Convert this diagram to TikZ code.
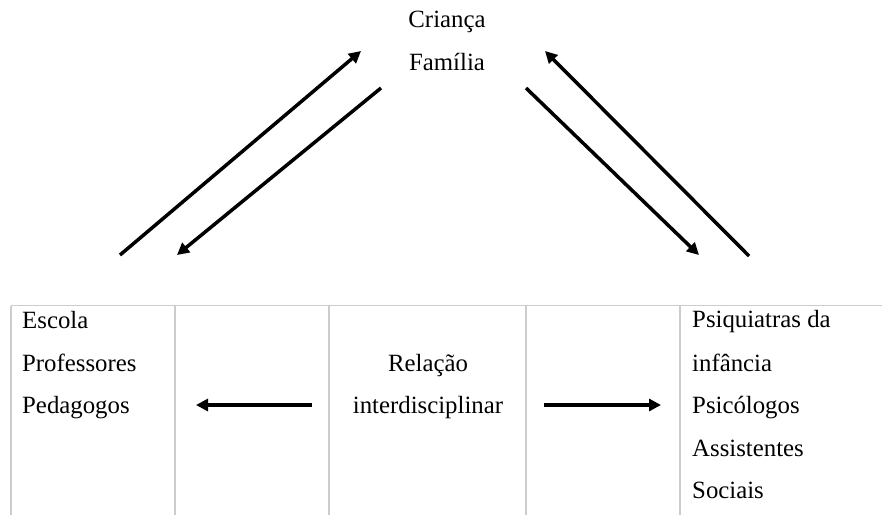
\documentclass[tikz,border=0pt]{standalone}
\usepackage{fontspec}
\setmainfont{Liberation Serif}
\usetikzlibrary{arrows.meta}
\definecolor{gridgray}{HTML}{CCCCCC}
\begin{document}
\begin{tikzpicture}[x=1pt,y=-1pt,
  lbl/.style={anchor=base west,inner sep=0pt,font=\fontsize{24.8}{29}\selectfont},
  clbl/.style={anchor=base,inner sep=0pt,font=\fontsize{24.8}{29}\selectfont},
  rel/.style={line width=3.5pt,-{Triangle[length=12pt,width=12pt]}},
  grid/.style={draw=gridgray,line width=1.5pt}]
\useasboundingbox (0,0) rectangle (882,515);
% table lines
\draw[grid] (11,305.5) -- (882,305.5);
\foreach \x in {11,175,329,526,680} \draw[grid] (\x,305.5) -- (\x,515);
% top texts
\node[clbl] (crianca) at (447,27) {Criança};
\node[clbl] (familia) at (447,70) {Família};
% left column
\node[lbl] (escola) at (22,328) {Escola};
\node[lbl] (prof) at (22,371) {Professores};
\node[lbl] (peda) at (22,413) {Pedagogos};
% middle
\node[clbl] (relacao) at (428,371) {Relação};
\node[clbl] (inter) at (428,413) {interdisciplinar};
% right column
\node[lbl] (psiq) at (692,327) {Psiquiatras da};
\node[lbl] (inf) at (692,371) {infância};
\node[lbl] (psic) at (692,413) {Psicólogos};
\node[lbl] (assist) at (692,456) {Assistentes};
\node[lbl] (soc) at (692,498) {Sociais};
% arrow coordinates
\coordinate (a1s) at (120,255); \coordinate (a1e) at (361,51);
\coordinate (a2s) at (381,88);  \coordinate (a2e) at (177,255);
\coordinate (a3s) at (749,256); \coordinate (a3e) at (545,51);
\coordinate (a4s) at (526,88);  \coordinate (a4e) at (699,255);
\coordinate (h1s) at (312,405); \coordinate (h1e) at (196,405);
\coordinate (h2s) at (544,405); \coordinate (h2e) at (661,405);
\draw[rel] (a1s) -- (a1e);
\draw[rel] (a2s) -- (a2e);
\draw[rel] (a3s) -- (a3e);
\draw[rel] (a4s) -- (a4e);
\draw[rel] (h1s) -- (h1e);
\draw[rel] (h2s) -- (h2e);
\end{tikzpicture}
\end{document}
